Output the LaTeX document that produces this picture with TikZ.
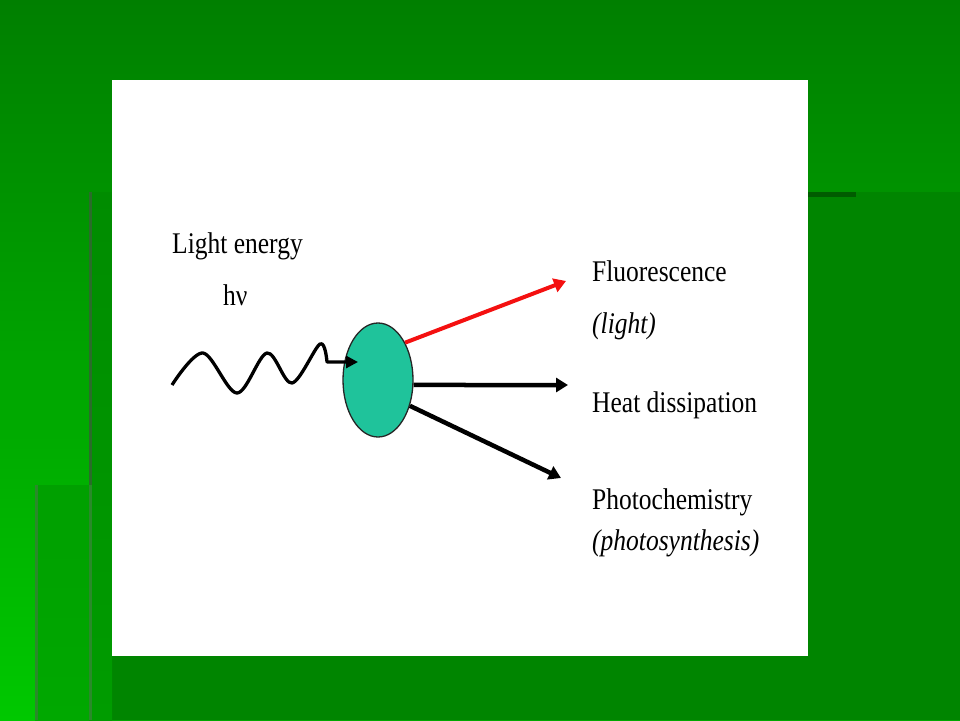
\documentclass[tikz,border=0pt]{standalone}
\usepackage{fontspec}
\setmainfont{Liberation Serif}
\usetikzlibrary{shapes.geometric,arrows.meta}
\definecolor{bgtop}{HTML}{007F00}
\definecolor{bgbot}{HTML}{00C800}
\definecolor{laymid}{HTML}{008500}
\definecolor{striptop}{HTML}{008C00}
\definecolor{stripbot}{HTML}{009C00}
\definecolor{lowtop}{HTML}{00A000}
\definecolor{lowbot}{HTML}{00A800}
\definecolor{edgedark}{HTML}{2A6C2A}
\definecolor{edgelight}{HTML}{2A8A2A}
\definecolor{topedge}{HTML}{005C00}
\definecolor{molfill}{HTML}{1FC39B}
\definecolor{fluored}{HTML}{F41010}
\begin{document}
\begin{tikzpicture}[x=1pt,y=-1pt,
  lbl/.style={anchor=base west, inner sep=0pt, font=\fontsize{30}{36}\selectfont},
  arr/.style={line width=4.5pt, -{Triangle[length=12pt,width=14pt]}},
  wavy/.style={line width=3.3pt, line join=round, -{Triangle[length=12pt,width=12pt]}},
  mol/.style={ellipse, minimum width=70pt, minimum height=114pt, inner sep=0pt,
    fill=molfill, draw=black!85, line width=1.3pt}
]
\useasboundingbox (0,0) rectangle (960,720);
% background layers
\shade[top color=bgtop, bottom color=bgbot] (0,0) rectangle (960,720);
\shade[top color=lowtop, bottom color=lowbot] (35,485) rectangle (960,720);
\fill[laymid] (89,192) rectangle (960,720);
\shade[top color=striptop, bottom color=stripbot] (89,192) rectangle (112,720);
\draw[edgedark, line width=3.5pt] (90.5,192) -- (90.5,485);
\draw[edgelight, line width=3.5pt] (90.5,485) -- (90.5,720);
\draw[edgelight, line width=3pt] (36.5,485) -- (36.5,720);
\draw[topedge, line width=5pt] (808,194.5) -- (856,194.5);
% white panel
\fill[white] (112,80) rectangle (808,656);

% molecule
\node[mol] (m) at (378,380) {};

% texts
\node[lbl] (light) at (172,253) {\scalebox{0.85}[1]{Light energy}};
\node[lbl] (hnu) at (223,305) {\scalebox{0.85}[1]{hν}};
\node[lbl] (fluo) at (592,281) {\scalebox{0.85}[1]{Fluorescence}};
\node[lbl] (fluo2) at (592,333) {\scalebox{0.85}[1]{\itshape (light)}};
\node[lbl] (heat) at (592,412) {\scalebox{0.85}[1]{Heat dissipation}};
\node[lbl] (photo) at (592,509) {\scalebox{0.85}[1]{Photochemistry}};
\node[lbl] (photo2) at (592,550) {\scalebox{0.85}[1]{\itshape (photosynthesis)}};

% arrow end points
\coordinate (fluotip) at (566,281);
\coordinate (heattip) at (568,385);
\coordinate (phototip) at (561,478);
\coordinate (wavestart) at (172,385);
\coordinate (waveend) at (358,362);

% arrows
\draw[arr, fluored, line width=4pt] (m.54) -- (fluotip);
\draw[arr] (m.-8) -- (heattip);
\draw[arr] (m.-39) -- (phototip);
\draw[wavy] plot[smooth, tension=0.55] coordinates {(wavestart) (203,353) (237,393) (267,353) (292,383) (320,344) (327,362)} -- (waveend);
\end{tikzpicture}
\end{document}
